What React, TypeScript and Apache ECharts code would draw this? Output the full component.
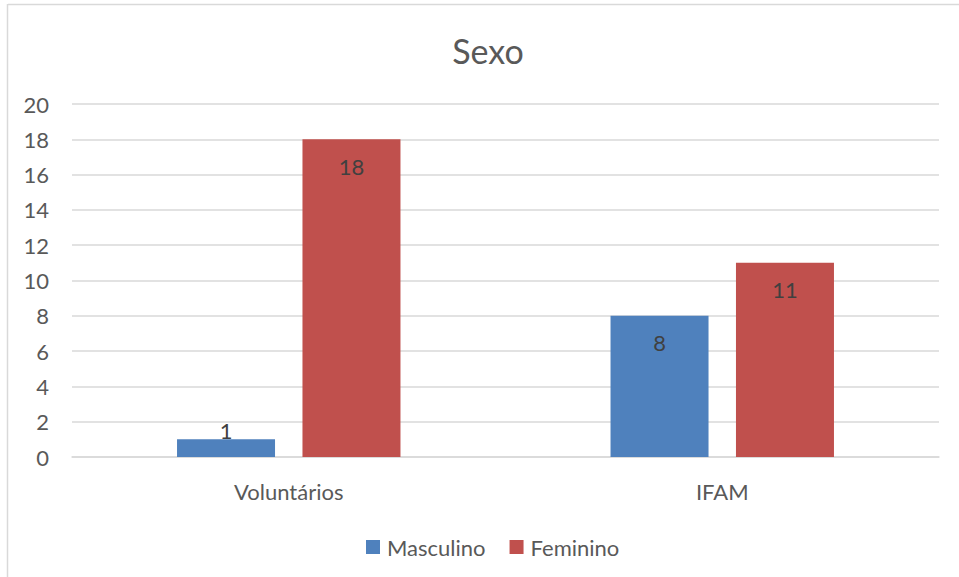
import React, { useEffect, useRef } from "react";
import * as echarts from "echarts";

const categories = ["Voluntários", "IFAM"];
const masculino = [1, 8];
const feminino = [18, 11];
const seriesNames = ["Masculino", "Feminino"];
const titleText = "Sexo";

const FONT = "Lato, 'Open Sans', sans-serif";
const TXT = "#595959";

export default function App() {
  const ref = useRef<HTMLDivElement>(null);
  useEffect(() => {
    const chart = echarts.init(ref.current!, undefined, { renderer: "svg" });
    const label = {
      show: true,
      position: "insideTop",
      distance: 16,
      color: "#404040",
      fontSize: 22,
      fontFamily: FONT,
    };
    chart.setOption({
      animation: false,
      backgroundColor: "#ffffff",
      textStyle: { fontFamily: FONT },
      title: {
        text: titleText,
        left: 483,
        top: 28,
        textAlign: "center",
        textStyle: { fontSize: 34, fontWeight: "normal", color: TXT, fontFamily: FONT },
      },
      legend: {
        data: seriesNames,
        left: 366,
        top: 536,
        padding: 0,
        itemWidth: 14,
        itemHeight: 14,
        itemGap: 24,
        icon: "rect",
        textStyle: { fontSize: 22, color: TXT, fontFamily: FONT, padding: [0, 0, 0, 2] },
      },
      grid: { left: 72, right: 20, top: 104, bottom: 120, containLabel: false },
      xAxis: {
        type: "category",
        data: categories,
        axisLine: { show: true, lineStyle: { color: "#d9d9d9", width: 1.5 } },
        axisTick: { show: false },
        axisLabel: { color: TXT, fontSize: 22, margin: 23, fontFamily: FONT },
      },
      yAxis: {
        type: "value",
        min: 0,
        max: 20,
        interval: 2,
        axisLine: { show: false },
        axisTick: { show: false },
        axisLabel: { color: TXT, fontSize: 22, margin: 23, fontFamily: FONT },
        splitLine: { lineStyle: { color: "#d9d9d9", width: 1.5 } },
      },
      series: [
        {
          name: seriesNames[0],
          type: "bar",
          data: masculino.map((v, i) =>
            i === 0 ? { value: v, label: { position: "top", distance: -2 } } : v
          ),
          barWidth: 98,
          barGap: "28%",
          itemStyle: { color: "#4f81bd" },
          label,
        },
        {
          name: seriesNames[1],
          type: "bar",
          data: feminino,
          barWidth: 98,
          barGap: "28%",
          itemStyle: { color: "#c0504d" },
          label,
        },
      ],
      graphic: [
        {
          type: "line",
          shape: { x1: 8, y1: 4.5, x2: 959, y2: 4.5 },
          style: { stroke: "#d9d9d9", lineWidth: 1.5 },
          silent: true,
        },
        {
          type: "line",
          shape: { x1: 7.5, y1: 4, x2: 7.5, y2: 577 },
          style: { stroke: "#d9d9d9", lineWidth: 1.5 },
          silent: true,
        },
      ],
    });
    return () => chart.dispose();
  }, []);
  return (
    <div
      ref={ref}
      style={{ position: "absolute", left: 0, top: 0, width: 959, height: 577 }}
    />
  );
}
